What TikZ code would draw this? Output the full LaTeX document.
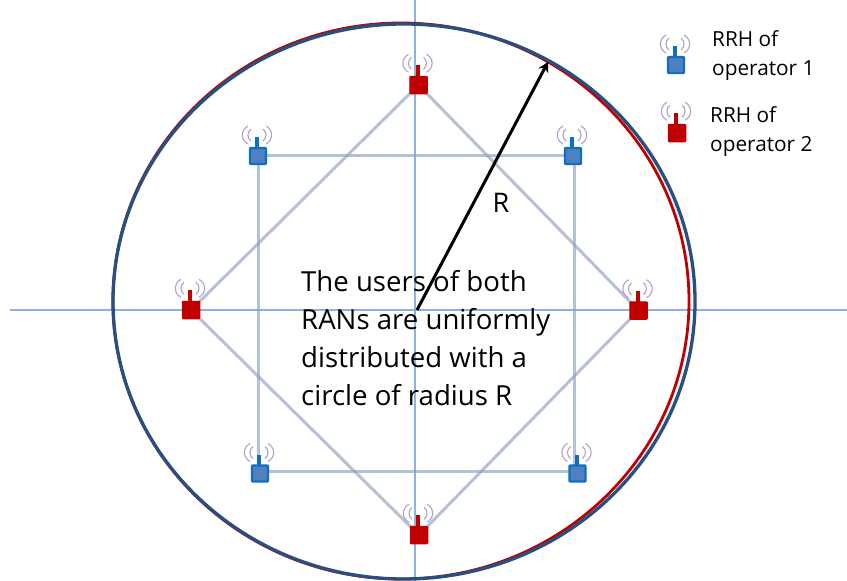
\documentclass[tikz,border=0pt]{standalone}
\usepackage{fontspec}
\setmainfont{Open Sans}
\usetikzlibrary{backgrounds,arrows.meta}
\definecolor{opblue}{HTML}{0F6FC0}
\definecolor{opfill}{HTML}{5080C0}
\definecolor{opred}{HTML}{C00000}
\definecolor{wave}{HTML}{B0A0CC}
\definecolor{linkc}{HTML}{8CA2C0}
\definecolor{axisc}{HTML}{8FB2DC}
\definecolor{ringb}{HTML}{274F82}
\tikzset{
  x=1pt,y=-1pt,
  bluebox/.style={draw=opblue,fill=opfill,line width=2.4pt,rounded corners=0.8pt,minimum size=16pt,inner sep=0pt,outer sep=0pt},
  redbox/.style={draw=opred,fill=opred,line width=1pt,rounded corners=0.8pt,minimum size=17.5pt,inner sep=0pt,outer sep=0pt},
  linkline/.style={draw=linkc,draw opacity=0.65,line width=3pt},
  axisline/.style={draw=axisc,line width=1.2pt},
  wavearc/.style={draw=wave,line width=1.1pt},
  body/.style={font=\fontsize{27.6}{38}\selectfont,align=left,anchor=north west,inner sep=0pt},
  legendt/.style={font=\fontsize{20.8}{29}\selectfont,align=left,anchor=north west,inner sep=0pt},
}
\newcommand{\antennawaves}[2]{%
  \draw[#2,line width=4pt] ([shift={(-1,0)}]#1.north) -- ++(0,-11);
  \draw[wavearc] ([shift={(-10,-22)}]#1.north) .. controls ([shift={(-17.5,-18)}]#1.north) and ([shift={(-17.5,-8)}]#1.north) .. ([shift={(-10,-4)}]#1.north);
  \draw[wavearc] ([shift={(-7,-19)}]#1.north) .. controls ([shift={(-11,-16)}]#1.north) and ([shift={(-11,-10)}]#1.north) .. ([shift={(-7,-7)}]#1.north);
  \draw[wavearc] ([shift={(8,-22)}]#1.north) .. controls ([shift={(15.5,-18)}]#1.north) and ([shift={(15.5,-8)}]#1.north) .. ([shift={(8,-4)}]#1.north);
  \draw[wavearc] ([shift={(5,-19)}]#1.north) .. controls ([shift={(9,-16)}]#1.north) and ([shift={(9,-10)}]#1.north) .. ([shift={(5,-7)}]#1.north);
}
\begin{document}
\begin{tikzpicture}
\useasboundingbox (0,0) rectangle (847,581);
\coordinate (axl) at (10,310);
\coordinate (axr) at (847,310);
\coordinate (axt) at (415,0);
\coordinate (axb) at (415,581);
\coordinate (ctr) at (417,310);
\coordinate (rim) at (548,62);
% nodes
\node[bluebox] (b1) at (258,156) {};
\node[bluebox] (b2) at (573,156) {};
\node[bluebox] (b3) at (577.5,473.5) {};
\node[bluebox] (b4) at (260,473.5) {};
\node[redbox] (r1) at (418.5,85) {};
\node[redbox] (r2) at (638.5,310.5) {};
\node[redbox] (r3) at (419,535) {};
\node[redbox] (r4) at (191,310) {};
\begin{scope}[on background layer]
\fill[white] (0,0) rectangle (847,581);
\draw[axisline] (axl) -- (axr);
\draw[axisline] (axt) -- (axb);
\draw[linkline] ([shift={(0,-1)}]b1.center) -- ([shift={(1,-1)}]b2.center) -- ([shift={(-3.5,-2.5)}]b3.center) -- ([shift={(-2,-2.5)}]b4.center) -- cycle;
\draw[linkline] (r1.center) -- (r2.center) -- (r3.center) -- (r4.center) -- cycle;
\draw[opred,line width=2.8pt] (401,301) ellipse (288 and 278);
\draw[ringb,line width=3.3pt] (404,301.5) ellipse (291 and 277.5);
\end{scope}
\foreach \n in {b1,b2,b3,b4}{\antennawaves{\n}{opblue}}
\foreach \n in {r1,r2,r3,r4}{\antennawaves{\n}{opred}}
\draw[black,line width=3pt,-{Stealth[length=10pt,width=11pt]}] (ctr) -- (rim);
\node[font=\fontsize{27}{30}\selectfont,inner sep=0pt] (rlab) at (501,203) {R};
\node[body] (txt) at (301,270.5) {The users of both\\RANs are uniformly\\distributed with a\\circle of radius R};
% legend
\node[bluebox] (lb) at (676,65) {};
\antennawaves{lb}{opblue}
\node[redbox] (lr) at (677,133) {};
\antennawaves{lr}{opred}
\node[legendt] (l1) at (712,30) {RRH of\\operator 1};
\node[legendt] (l2) at (710,106) {RRH of\\operator 2};
\end{tikzpicture}
\end{document}
